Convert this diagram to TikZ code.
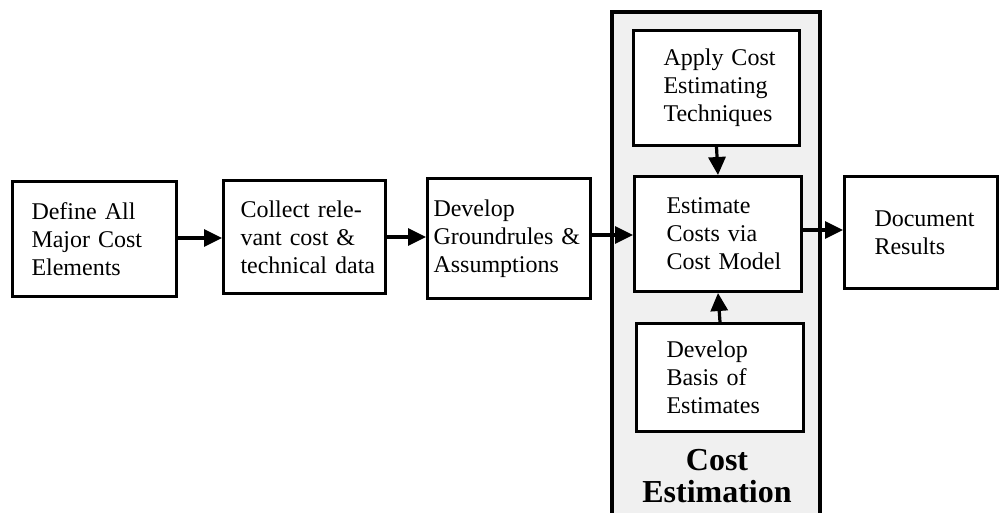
\documentclass[tikz,border=0pt]{standalone}
\usepackage{fontspec}
\setmainfont{Liberation Serif}
\usetikzlibrary{arrows.meta,positioning}

\tikzset{
  stepbox/.style={draw=black, line width=3pt, fill=white, anchor=north west,
    align=left, inner ysep=0pt, font=\fontsize{24}{28}\selectfont},
  flow/.style={line width=3.2pt, -{Triangle[length=18pt,width=17pt]}},
  panelfill/.style={fill=black!6},
  panelline/.style={line width=3.5pt},
}

\begin{document}
\begin{tikzpicture}[x=1pt,y=-1pt]
\useasboundingbox (0,0) rectangle (999,512);

% Cost estimation panel
\fill[panelfill] (612,12) rectangle (820,516);
\draw[panelline] (612,516) -- (612,12) -- (820,12) -- (820,516);
\node[font=\fontsize{32}{32}\selectfont\bfseries, align=center, inner sep=0pt]
  (paneltitle) at (717,476) {Cost\\Estimation};

% process steps (lines kept unbroken with ~)
\node[stepbox, minimum width=164pt, minimum height=115pt, text width=126pt, inner xsep=19pt]
  (define) at (11,180) {Define~All\\Major~Cost\\Elements};
\node[stepbox, minimum width=162pt, minimum height=113pt, text width=128pt, inner xsep=17pt]
  (collect) at (222,179) {Collect~rele-\\vant~cost~\&\\technical~data};
\node[stepbox, minimum width=163pt, minimum height=120pt, text width=151pt, inner xsep=6pt]
  (ground) at (426,177) {Develop\\Groundrules~\&\\Assumptions};
\node[stepbox, minimum width=166pt, minimum height=115pt, text width=106pt, inner xsep=30pt]
  (apply) at (632,29) {Apply~Cost\\Estimating\\Techniques};
\node[stepbox, minimum width=167pt, minimum height=115pt, text width=103pt, inner xsep=32pt]
  (estimate) at (633,175) {Estimate\\Costs~via\\Cost~Model};
\node[stepbox, minimum width=167pt, minimum height=108pt, text width=107pt, inner xsep=30pt]
  (basis) at (635,322) {Develop\\Basis~of\\Estimates};
\node[stepbox, minimum width=153pt, minimum height=112pt, text width=93pt, inner xsep=30pt]
  (document) at (843,175) {Document\\Results};

% connectors
\draw[flow] (define.east |- 0,238) -- (collect.west |- 0,238);
\draw[flow] (collect.east |- 0,237) -- (ground.west |- 0,237);
\draw[flow] (ground.east |- 0,235) -- (estimate.west |- 0,235);
\draw[flow] (apply.south) -- (estimate.north);
\draw[flow] (basis.north) -- (estimate.south);
\draw[flow] (estimate.east |- 0,230) -- (document.west |- 0,230);
\end{tikzpicture}
\end{document}
